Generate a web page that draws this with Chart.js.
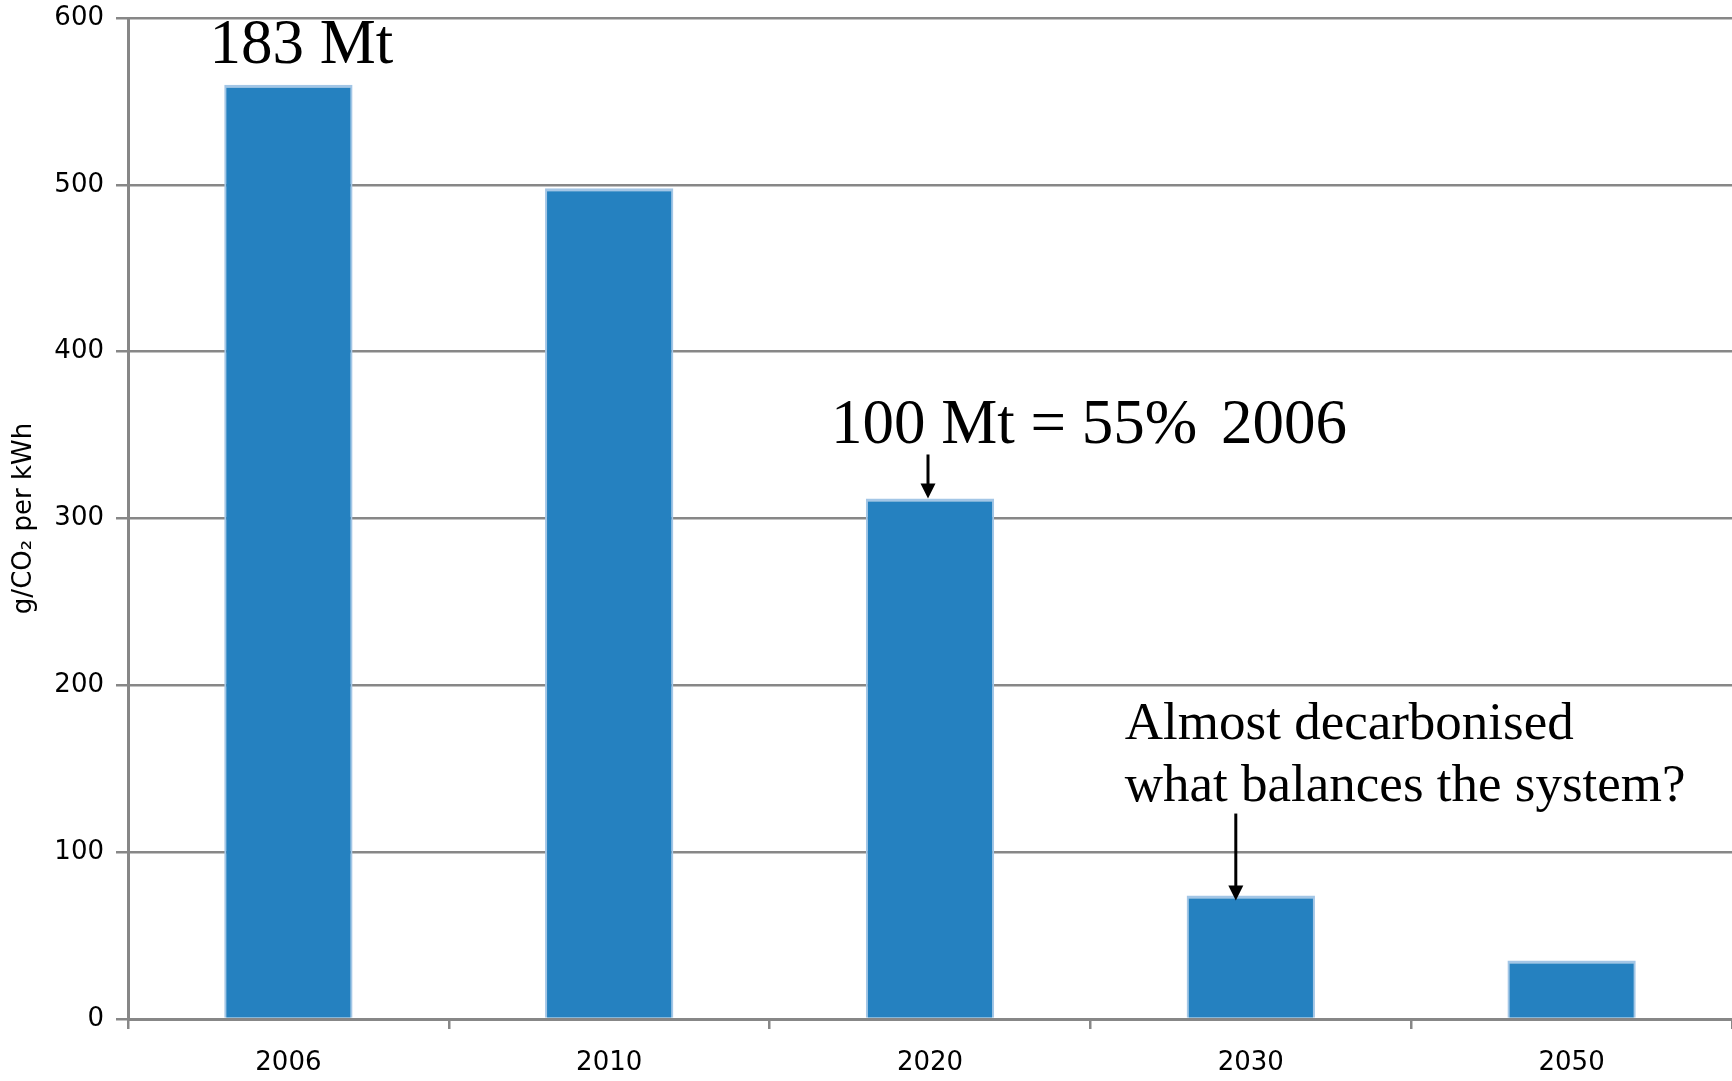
<!DOCTYPE html>
<html>
<head>
<meta charset="utf-8">
<script src="https://cdn.jsdelivr.net/npm/chart.js@4.4.1/dist/chart.umd.min.js"></script>
<style>
  html, body { margin: 0; padding: 0; background: #ffffff; }
  #wrap { width: 1732px; height: 1081px; position: relative; }
</style>
</head>
<body>
<div id="wrap"><canvas id="chart"></canvas></div>
<script>
// Carbon intensity of electricity by year
const years = ['2006', '2010', '2020', '2030', '2050'];
const intensity = [560, 498, 312, 74, 35];
const yTicks = [0, 100, 200, 300, 400, 500, 600];
const yTitle = 'g/CO\u2082 per kWh';
const noteTop = '183 Mt';
const noteMid = ['100 Mt = 55% ', '2006'];
const noteLow = ['Almost decarbonised', 'what balances the system?'];

const axisGrey = '#878787';
const barBlue = '#2581c0';
const barEdge = '#a3c6e6';
const sans = '"DejaVu Sans", sans-serif';

// Text notes and arrows, anchored to the bars they refer to
const notesPlugin = {
  id: 'notes',
  afterDatasetsDraw(chart) {
    const { ctx, scales: { x, y } } = chart;
    const serif = '"Liberation Serif", "Times New Roman", serif';
    ctx.save();
    ctx.fillStyle = '#000';
    ctx.strokeStyle = '#000';
    ctx.textBaseline = 'alphabetic';

    const arrow = (ax, y0, y1) => {
      ctx.lineWidth = 3;
      ctx.beginPath();
      ctx.moveTo(ax, y0);
      ctx.lineTo(ax, y1 - 12);
      ctx.stroke();
      ctx.beginPath();
      ctx.moveTo(ax - 7.5, y1 - 15);
      ctx.lineTo(ax + 7.5, y1 - 15);
      ctx.lineTo(ax, y1);
      ctx.closePath();
      ctx.fill();
    };

    // 2006
    const x0 = x.getPixelForValue(0);
    const t0 = y.getPixelForValue(intensity[0]);
    ctx.font = '63px ' + serif;
    ctx.textAlign = 'center';
    ctx.fillText(noteTop, x0 + 13, t0 - 22);

    // 2020
    const x2 = x.getPixelForValue(2);
    const t2 = y.getPixelForValue(intensity[2]);
    ctx.textAlign = 'left';
    const midX = x2 - 99;
    ctx.fillText(noteMid[0], midX, t2 - 55);
    ctx.fillText(noteMid[1], midX + ctx.measureText(noteMid[0]).width + 8, t2 - 55);
    arrow(x2 - 2, t2 - 44, t2);

    // 2030
    const x3 = x.getPixelForValue(3);
    const t3 = y.getPixelForValue(intensity[3]);
    ctx.font = '53px ' + serif;
    ctx.fillText(noteLow[0], x3 - 126, t3 - 157);
    ctx.fillText(noteLow[1], x3 - 126, t3 - 95);
    arrow(x3 - 15, t3 - 82, t3 + 5);

    ctx.restore();
  }
};

new Chart(document.getElementById('chart'), {
  type: 'bar',
  data: {
    labels: years,
    datasets: [{
      data: intensity,
      backgroundColor: barBlue,
      borderColor: barEdge,
      borderWidth: { top: 3, left: 2, right: 2, bottom: 0 },
      borderSkipped: false,
      barPercentage: 0.4,
      categoryPercentage: 1.0
    }]
  },
  options: {
    responsive: true,
    maintainAspectRatio: false,
    animation: false,
    layout: { padding: { top: 18, right: 0, left: 0, bottom: 0 } },
    plugins: {
      legend: { display: false },
      tooltip: { enabled: false }
    },
    scales: {
      x: {
        grid: {
          offset: true,
          drawOnChartArea: false,
          color: axisGrey,
          lineWidth: 2.5,
          tickLength: 10
        },
        border: { color: axisGrey, width: 3 },
        ticks: {
          color: '#000',
          font: { family: sans, size: 26 },
          padding: 19,
          maxRotation: 0
        },
        afterFit(scale) { scale.height = 62; }
      },
      y: {
        min: yTicks[0],
        max: yTicks[yTicks.length - 1],
        afterBuildTicks(scale) { scale.ticks = yTicks.map(v => ({ value: v })); },
        grid: { color: axisGrey, lineWidth: 2.5, tickLength: 12 },
        border: { color: axisGrey, width: 3 },
        ticks: {
          color: '#000',
          font: { family: sans, size: 26 },
          padding: 12
        },
        title: {
          display: true,
          text: yTitle,
          color: '#000',
          font: { family: sans, size: 26 },
          padding: { top: 9, bottom: 0 }
        },
        afterFit(scale) {
          scale.width = 128;
          scale.paddingTop = 0;
          scale.paddingBottom = 0;
        }
      }
    }
  },
  plugins: [notesPlugin]
});
</script>
</body>
</html>
